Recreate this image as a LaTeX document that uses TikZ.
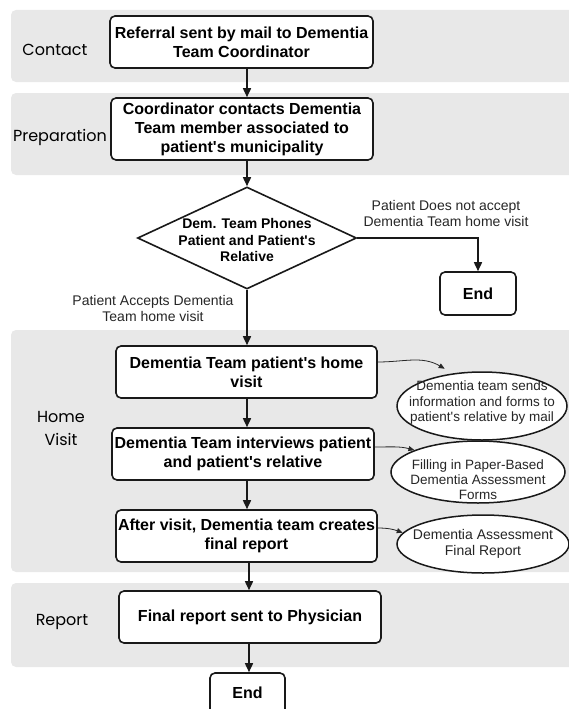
\documentclass[tikz,border=0pt]{standalone}
\usepackage{fontspec}
\setmainfont{Liberation Sans}
\newfontfamily\stagefont{Poppins}
\usetikzlibrary{shapes.geometric,arrows.meta}
\newcommand\apq{\textquotesingle}
\definecolor{bandgray}{RGB}{232,232,232}
\definecolor{linegray}{RGB}{40,40,40}
\tikzset{
  band/.style={fill=bandgray, draw=none, rounded corners=5pt},
  stage/.style={font=\stagefont\fontsize{16}{23}\selectfont, align=center, text=black},
  box/.style={draw=black!90, line width=1.6pt, rounded corners=5pt, fill=white, inner sep=0pt, align=center,
              font=\bfseries\fontsize{16}{19}\selectfont},
  dec/.style={diamond, draw=black!90, line width=1.6pt, fill=white, inner sep=0pt, minimum width=219pt, minimum height=102pt},
  dectxt/.style={align=center, font=\bfseries\fontsize{14}{16.5}\selectfont, inner sep=0pt},
  lbl/.style={align=center, font=\fontsize{14}{15.5}\selectfont, inner sep=0pt, text=black!85},
  evt/.style={ellipse, draw=black!90, line width=1.5pt, fill=white, inner sep=0pt},
  etxt/.style={align=center, inner sep=0pt, text=black!85},
  arr/.style={line width=1.6pt, draw=black!90, -{Triangle[length=9pt,width=8pt]}},
  carr/.style={line width=0.8pt, draw=linegray, -{Triangle[length=6pt,width=5pt]}},
}
\begin{document}
\begin{tikzpicture}[x=1pt,y=-1pt]
\useasboundingbox (0,0) rectangle (569,709);
\begin{scope}
\clip (0,0) rectangle (569,709);
% bands
\fill[band] (11,10) rectangle (595,82);
\fill[band] (11,93) rectangle (595,175);
\fill[band] (11,330) rectangle (595,572);
\fill[band] (11,583) rectangle (595,667);
% stage labels
\node[stage] (sContact) at (55,50) {Contact};
\node[stage] (sPrep) at (60,137) {Preparation};
\node[stage] (sHome) at (61,428) {Home\\Visit};
\node[stage] (sReport) at (62,622) {Report};
% boxes
\node[box, minimum width=263pt, minimum height=52pt] (b1) at (241.5,42) {Referral sent by mail to Dementia\\Team Coordinator};
\node[box, minimum width=262pt, minimum height=62pt] (b2) at (242,129) {Coordinator contacts Dementia\\Team member associated to\\patient\apq s municipality};
\node[dec] (d) at (247,238) {};
\node[dectxt] (dt) at (247,240) {Dem. Team Phones\\Patient and Patient\apq s\\Relative};
\node[box, minimum width=76pt, minimum height=43pt] (end1) at (478,293.5) {End};
\node[box, minimum width=261pt, minimum height=52pt] (b3) at (246.5,372) {Dementia Team patient\apq s home\\visit};
\node[box, minimum width=262pt, minimum height=52pt] (b4) at (243,454) {Dementia Team interviews patient\\and patient\apq s relative};
\node[box, minimum width=261pt, minimum height=52pt] (b5) at (246.5,536) {After visit, Dementia team creates\\final report};
\node[box, minimum width=262pt, minimum height=52pt] (b6) at (250,617) {Final report sent to Physician};
\node[box, minimum width=75pt, minimum height=50pt] (end2) at (247.5,698) {};
\node[font=\bfseries\fontsize{16}{19}\selectfont, inner sep=0pt] (end2t) at (247.5,693) {End};
% labels
\node[lbl] (lno) at (446,213.5) {Patient Does not accept\\Dementia Team home visit};
\node[lbl] (lyes) at (153,308.5) {Patient Accepts Dementia\\Team home visit};
% ellipses
\node[evt, minimum width=170pt, minimum height=68pt] (e1) at (482,406) {};
\node[etxt, font=\fontsize{13.5}{15.5}\selectfont] (e1t) at (482,403) {Dementia team sends\\information and forms to\\patient\apq s relative by mail};
\node[evt, minimum width=174pt, minimum height=62pt] (e2) at (478,472) {};
\node[etxt, font=\fontsize{13.5}{15}\selectfont] (e2t) at (478,480) {Filling in Paper-Based\\Dementia Assessment\\Forms};
\node[evt, minimum width=172pt, minimum height=58pt] (e3) at (483,544) {};
\node[etxt, font=\fontsize{14}{16.5}\selectfont] (e3t) at (483,544) {Dementia Assessment\\Final Report};
% main arrows
\draw[arr] (b1.south -| d) -- (b2.north -| d);
\draw[arr] (b2.south -| d) -- (d.north);
\draw[arr] (d.south) -- (b3.north -| d);
\draw[arr] (b3.south -| d) -- (b4.north -| d);
\draw[arr] (b4.south -| d) -- (b5.north -| d);
\draw[arr] ([xshift=2pt]b5.south -| d) -- ([xshift=2pt]b6.north -| d);
\draw[arr] ([xshift=2pt]b6.south -| d) -- ([xshift=2pt]end2.north -| d);
\draw[arr] (d.east) -| (end1.north);
% curved arrows
\draw[carr] ([yshift=10pt]b3.east) to[out=0,in=150] ([yshift=6pt]e1.140);
\draw[carr] ([yshift=7pt]b4.east) to[out=0,in=165] (e2.161);
\draw[carr] ([yshift=8pt]b5.east) to[out=0,in=160] (e3.172);
\end{scope}
\end{tikzpicture}
\end{document}
